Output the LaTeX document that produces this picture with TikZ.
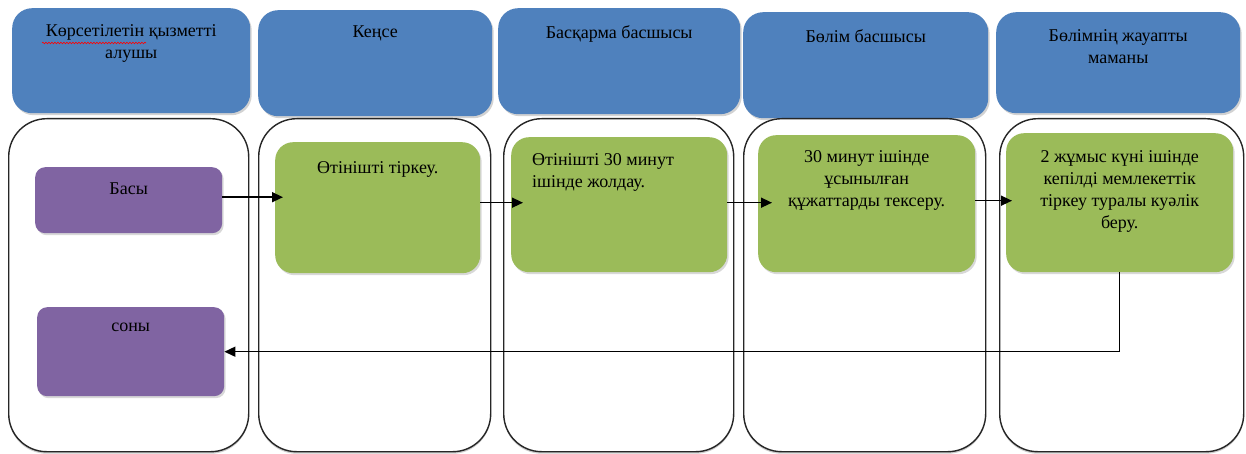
\documentclass[tikz,border=0pt]{standalone}
\usepackage{fontspec}
\setmainfont{Liberation Serif}
\usetikzlibrary{arrows.meta,positioning,shadows,decorations.pathmorphing}

\definecolor{headblue}{HTML}{4F81BD}
\definecolor{taskgreen}{HTML}{9BBB59}
\definecolor{termpurple}{HTML}{8064A2}

\begin{document}
\begin{tikzpicture}[
  x=1pt, y=-1pt,
  head/.style={rectangle, rounded corners=20pt, fill=headblue, anchor=north west, inner sep=0pt,
    drop shadow={shadow xshift=1.5pt, shadow yshift=-2pt, opacity=0.35}},
  lane/.style={rectangle, rounded corners=38pt, draw=black!85, line width=1.4pt, fill=white,
    anchor=north west, minimum height=333pt, inner sep=0pt,
    drop shadow={shadow xshift=0pt, shadow yshift=-2pt, opacity=0.4}},
  task/.style={rectangle, rounded corners=18pt, fill=taskgreen, anchor=north west, inner sep=0pt,
    drop shadow={shadow xshift=1.5pt, shadow yshift=-2pt, opacity=0.3}},
  term/.style={rectangle, rounded corners=10pt, fill=termpurple, anchor=north west, inner sep=0pt,
    minimum width=187pt, drop shadow={shadow xshift=1.5pt, shadow yshift=-2pt, opacity=0.3}},
  txt/.style={align=center, inner sep=0pt, font=\fontsize{18}{22}\selectfont},
  flow/.style={-{Triangle[length=11pt,width=10pt]}, line width=1.5pt},
  spell/.style={red, line width=0.6pt, decorate, decoration={snake, amplitude=0.8pt, segment length=3pt}},
]
\path[use as bounding box, fill=white] (0,0) rectangle (1246,454);

% headers
\node[head, minimum width=238pt, minimum height=105pt] (h1) at (12,8) {};
\node[head, minimum width=234pt, minimum height=106pt] (h2) at (258,10) {};
\node[head, minimum width=242pt, minimum height=106pt] (h3) at (498,8) {};
\node[head, minimum width=245pt, minimum height=106pt] (h4) at (743,12) {};
\node[head, minimum width=244pt, minimum height=101pt] (h5) at (996,12) {};
\node[txt, below=16pt of h1.north] (t1) {Көрсетілетін қызметті\\алушы};
\node[txt, below=16pt of h2.north] (t2) {Кеңсе};
\node[txt, below=17pt of h3.north] (t3) {Басқарма басшысы};
\node[txt, below=17pt of h4.north] (t4) {Бөлім басшысы};
\node[txt, below=17pt of h5.north] (t5) {Бөлімнің жауапты\\маманы};
\draw[spell] (42,43) -- (146,43);

% lanes
\node[lane, minimum width=240pt] (l1) at (8,118) {};
\node[lane, minimum width=232pt] (l2) at (258,118) {};
\node[lane, minimum width=230pt] (l3) at (503,118) {};
\node[lane, minimum width=242pt] (l4) at (743,118) {};
\node[lane, minimum width=244pt] (l5) at (999,118) {};

% start / end
\node[term, minimum height=66pt] (p1) at (35,167) {};
\node[term, minimum height=89pt] (p2) at (37,307) {};
\node[txt, below=16pt of p1.north] (basy) {Басы};
\node[txt, below=16pt of p2.north] (sony) {соны};

% steps
\node[task, minimum width=205pt, minimum height=131pt] (g1) at (275,142) {};
\node[task, minimum width=216pt, minimum height=135pt] (g2) at (511,137) {};
\node[task, minimum width=217pt, minimum height=137pt] (g3) at (758,135) {};
\node[task, minimum width=227pt, minimum height=139pt] (g4) at (1006,133) {};
\node[txt, below=19pt of g1.north] (s1) {Өтінішті тіркеу.};
\node[txt, align=left, anchor=north west] (s2) at ([xshift=21pt, yshift=-16pt]g2.north west) {Өтінішті 30 минут\\ішінде жолдау.};
\node[txt, below=15pt of g3.north] (s3) {30 минут ішінде\\ұсынылған\\құжаттарды тексеру.};
\node[txt, below=17pt of g4.north] (s4) {2 жұмыс күні ішінде\\кепілді мемлекеттік\\тіркеу туралы куәлік\\беру.};

% arrows
\draw[flow] ([yshift=3pt]p1.east) -- ([xshift=8pt, yshift=3pt]p1.east -| g1.west);
\draw[flow] ([yshift=5pt]g1.east) -- ([xshift=12pt, yshift=5pt]g1.east -| g2.west);
\draw[flow] ([yshift=2pt]g2.east) -- ([xshift=14pt, yshift=2pt]g2.east -| g3.west);
\draw[flow] ([yshift=3pt]g3.east) -- ([xshift=6pt, yshift=3pt]g3.east -| g4.west);
\draw[flow] (g4.south) |- (p2.east);
\end{tikzpicture}
\end{document}
